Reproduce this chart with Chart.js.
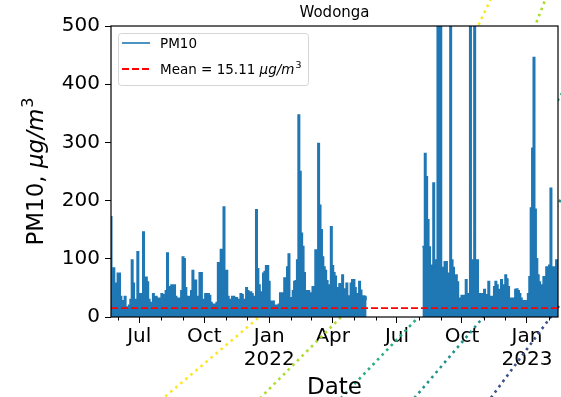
<!DOCTYPE html>
<html>
<head>
<meta charset="utf-8">
<title>Wodonga PM10</title>
<script src="https://cdn.jsdelivr.net/npm/chart.js@4"></script>
<style>
  html, body { margin: 0; padding: 0; background: #fff; }
  #wrap { width: 561px; height: 397px; }
</style>
</head>
<body>
<div id="wrap"><canvas id="chart"></canvas></div>
<script>
// PM10 readings, one value every two days
const stepDays = 2;
const period1Start = '2021-05-22';
const period1Pm10 = [
  172, 84, 84, 58, 40, 75, 75, 35, 28, 20,
  35, 17, 15, 20, 30, 98, 58, 30, 25, 112,
  40, 30, 40, 146, 68, 68, 60, 30, 22, 25,
  40, 30, 35, 28, 32, 25, 40, 38, 30, 45,
  110, 52, 45, 55, 50, 55, 35, 30, 32, 28,
  45, 103, 100, 50, 35, 30, 35, 45, 80, 40,
  63, 30, 35, 76, 76, 30, 25, 40, 35, 40,
  37, 25, 22, 20, 22, 25, 93, 40, 116, 50,
  189, 80, 80, 35, 30, 25, 35, 35, 30, 33,
  28, 30, 40, 38, 30, 25, 50, 45, 30, 43,
  40, 35, 30, 184, 83, 55, 43, 40, 75, 78,
  88, 88, 61, 27, 25, 27, 20, 18, 20, 22,
  41, 35, 41, 67, 55, 86, 108, 33, 30, 45,
  61, 62, 98, 347, 250, 144, 121, 76, 45, 40,
  45, 41, 35, 52, 50, 115, 100, 298, 192, 150,
  103, 86, 80, 62, 55, 45, 155, 88, 76, 70,
  50, 45, 57, 50, 72, 48, 29, 58, 36, 36,
  58, 64, 64, 50, 33, 40, 61, 46, 29, 36,
  30, 35
];
const gapDate = '2022-07-01';
const period2Start = '2022-08-06';
const period2Pm10 = [
  121, 121, 281, 241, 167, 120, 89, 85, 230, 98,
  90, 650, 600, 620, 72, 85, 95, 95, 75, 75,
  600, 98, 85, 72, 72, 60, 32, 30, 37, 35,
  37, 64, 37, 40, 600, 98, 98, 600, 98, 98,
  40, 40, 37, 40, 47, 38, 35, 61, 35, 30,
  35, 52, 61, 55, 47, 40, 64, 55, 40, 72,
  65, 52, 32, 30, 32, 28, 47, 48, 45, 40,
  32, 28, 25, 28, 18, 40, 69, 187, 290, 446,
  185, 100, 72, 60, 55, 50, 69, 60, 86, 80,
  89, 221, 86, 75, 86, 98, 89
];
const meanPm10 = 15.11;

const xStart = '2021-05-22';
const xEnd = '2023-02-14';
const yTicks = [0, 100, 200, 300, 400, 500];
const majorTicks = [
  ['2021-07-01', 'Jul'],
  ['2021-10-01', 'Oct'],
  ['2022-01-01', ['Jan', '2022']],
  ['2022-04-01', 'Apr'],
  ['2022-07-01', 'Jul'],
  ['2022-10-01', 'Oct'],
  ['2023-01-01', ['Jan', '2023']],
];

// stray dotted lines from neighbouring axes, [day since 2021-07-01, value]
const decorationColors = ['#fde725', '#addc30', '#28ae80', '#21918c', '#3b528b'];
const decorationLines = [
  [[29.7, -144], [168.4, -1.7], [479.7, 499.7], [503.8, 561.5]],
  [[164.1, -148], [284.4, -1.7], [560.4, 499.7], [580.2, 561.5]],
  [[278.8, -148], [394.8, -0.9], [592.9, 372.6], [602.8, 393.2]],
  [[383.5, -148], [486.8, -0.9], [592.9, 192.3], [602.8, 218.1]],
  [[492.4, -148], [581.6, -1.7], [594.3, 18.9], [604.2, 34.3]],
];

const DAY_MS = 86400000;
const ORIGIN = Date.parse('2021-07-01');
const dayOf = (s) => (Date.parse(s) - ORIGIN) / DAY_MS;

function seriesPoints(start, values) {
  const d0 = dayOf(start);
  return values.map((v, i) => ({ x: d0 + i * stepDays, y: v }));
}

const pm10Points = [
  ...seriesPoints(period1Start, period1Pm10),
  { x: dayOf(gapDate), y: null },
  ...seriesPoints(period2Start, period2Pm10),
];

const monthStarts = [];
for (let m = 5; m <= 25; m++) {
  const d = new Date(Date.UTC(2021, m, 1));
  monthStarts.push(d.toISOString().slice(0, 10));
}
const majorDates = majorTicks.map(([d]) => d);

const FONT = '"DejaVu Sans", sans-serif';

function drawParts(ctx, parts, x, y, size, align) {
  const fontFor = (p) => (p.italic ? 'italic ' : '') + (p.sup ? size * 0.7 : size) + 'px ' + FONT;
  let total = 0;
  parts.forEach((p) => { ctx.font = fontFor(p); total += ctx.measureText(p.t).width + (p.sup ? 1 : 0); });
  let cx = align === 'center' ? x - total / 2 : x;
  ctx.textAlign = 'left';
  ctx.textBaseline = 'alphabetic';
  parts.forEach((p) => {
    ctx.font = fontFor(p);
    ctx.fillText(p.t, cx + (p.sup ? 1 : 0), p.sup ? y - size * 0.42 : y);
    cx += ctx.measureText(p.t).width + (p.sup ? 1 : 0);
  });
}

const unitParts = [{ t: 'μg/m', italic: true }, { t: '3', italic: false, sup: true }];

const decorPlugin = {
  id: 'decor',
  beforeDatasetsDraw(chart) { chart.$decorDone = 0; },
  afterDatasetDraw(chart, args) {
    const ds = chart.data.datasets[args.index];
    if (!ds.decoration) return;
    chart.$decorDone++;
    if (chart.$decorDone === decorationLines.length) {
      const a = chart.chartArea;
      chart.ctx.save();
      chart.ctx.fillStyle = '#fff';
      chart.ctx.fillRect(a.left, a.top, a.right - a.left, a.bottom - a.top);
      chart.ctx.restore();
    }
  },
  afterDraw(chart) {
    const { ctx, chartArea: a, scales: { x } } = chart;
    ctx.save();
    ctx.strokeStyle = '#000';
    ctx.lineWidth = 1;
    monthStarts.forEach((d) => {
      if (majorDates.includes(d)) return;
      const px = Math.round(x.getPixelForValue(dayOf(d))) + 0.5;
      ctx.beginPath();
      ctx.moveTo(px, a.bottom);
      ctx.lineTo(px, a.bottom + 3.5);
      ctx.stroke();
    });
    ctx.lineWidth = 1.2;
    ctx.strokeRect(a.left, a.top, a.right - a.left, a.bottom - a.top);

    ctx.fillStyle = '#000';
    ctx.font = '15px ' + FONT;
    ctx.textAlign = 'center';
    ctx.textBaseline = 'alphabetic';
    ctx.fillText('Wodonga', (a.left + a.right) / 2, a.top - 9);
    ctx.font = '23px ' + FONT;
    ctx.fillText('Date', (a.left + a.right) / 2, a.bottom + 77);

    ctx.save();
    ctx.translate(43, (a.top + a.bottom) / 2);
    ctx.rotate(-Math.PI / 2);
    drawParts(ctx, [{ t: 'PM10, ' }, ...unitParts], 0, 0, 23, 'center');
    ctx.restore();

    // legend
    const lx = a.left + 7, ly = a.top + 7, lw = 190, lh = 52;
    ctx.beginPath();
    ctx.roundRect(lx + 0.5, ly + 0.5, lw, lh, 3);
    ctx.fillStyle = 'rgba(255,255,255,0.8)';
    ctx.fill();
    ctx.strokeStyle = '#d5d5d5';
    ctx.lineWidth = 1;
    ctx.stroke();
    const rows = chart.data.datasets.filter((ds) => !ds.decoration);
    rows.forEach((ds, i) => {
      const ry = ly + 10 + i * 26;
      ctx.beginPath();
      ctx.setLineDash(ds.borderDash || []);
      ctx.strokeStyle = ds.borderColor;
      ctx.lineWidth = ds.borderWidth;
      ctx.moveTo(lx + 4, ry);
      ctx.lineTo(lx + 32, ry);
      ctx.stroke();
      ctx.setLineDash([]);
      ctx.fillStyle = '#000';
      const parts = ds.label === 'PM10' ? [{ t: 'PM10' }] : [{ t: ds.label + ' ' }, ...unitParts];
      drawParts(ctx, parts, lx + 42, ry + 5, 13.5, 'left');
    });
    ctx.restore();
  },
};

const decorationDatasets = decorationLines.map((pts, i) => ({
  label: 'decoration ' + i,
  decoration: true,
  data: pts.map(([d, v]) => ({ x: d, y: v })),
  borderColor: decorationColors[i],
  borderWidth: 2.6,
  borderDash: [2.6, 4],
  pointRadius: 0,
  fill: false,
  clip: false,
  order: 5,
}));

new Chart(document.getElementById('chart'), {
  type: 'line',
  data: {
    datasets: [
      {
        label: 'PM10',
        data: pm10Points,
        borderColor: '#1f77b4',
        backgroundColor: '#1f77b4',
        borderWidth: 1.6,
        stepped: 'middle',
        fill: 'origin',
        pointRadius: 0,
        spanGaps: false,
        clip: 0,
        order: 1,
      },
      {
        label: 'Mean = ' + meanPm10,
        data: [{ x: dayOf(xStart), y: meanPm10 }, { x: dayOf(xEnd), y: meanPm10 }],
        borderColor: '#ff0000',
        borderWidth: 1.8,
        borderDash: [7, 3],
        pointRadius: 0,
        fill: false,
        clip: 0,
        order: 0,
      },
      ...decorationDatasets,
    ],
  },
  options: {
    responsive: true,
    maintainAspectRatio: false,
    devicePixelRatio: 1,
    animation: false,
    layout: { padding: { left: 0, right: 3, top: 26, bottom: 0 } },
    plugins: { legend: { display: false }, tooltip: { enabled: false } },
    scales: {
      x: {
        type: 'linear',
        min: dayOf(xStart),
        max: dayOf(xEnd),
        afterFit: (s) => { s.height = 80; },
        afterBuildTicks: (s) => { s.ticks = majorTicks.map(([d]) => ({ value: dayOf(d) })); },
        ticks: {
          autoSkip: false,
          maxRotation: 0,
          padding: 2,
          color: '#000',
          font: { family: FONT, size: 20, lineHeight: 1.15 },
          callback: (v, i) => majorTicks[i][1],
        },
        grid: { drawOnChartArea: false, tickLength: 6, tickColor: '#000', tickWidth: 1 },
        border: { display: false },
      },
      y: {
        min: 0,
        max: 500,
        afterFit: (s) => { s.width = 111; },
        afterBuildTicks: (s) => { s.ticks = yTicks.map((v) => ({ value: v })); },
        ticks: {
          padding: 5,
          color: '#000',
          font: { family: FONT, size: 20 },
        },
        grid: { drawOnChartArea: false, tickLength: 6, tickColor: '#000', tickWidth: 1 },
        border: { display: false },
      },
    },
  },
  plugins: [decorPlugin],
});
</script>
</body>
</html>
